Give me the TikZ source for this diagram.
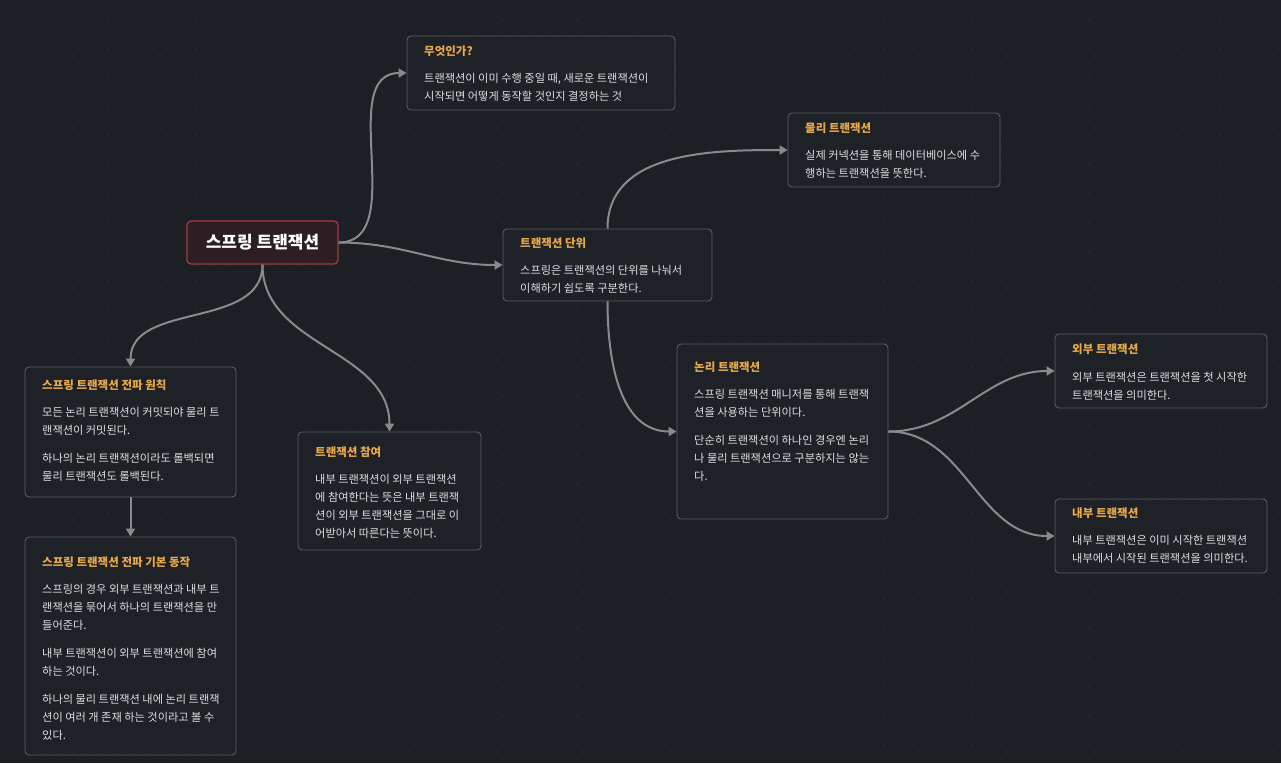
\documentclass[tikz,border=0pt]{standalone}
\usepackage{fontspec}
\setmainfont{Noto Sans CJK KR}
\usepackage{xcolor}
\usepackage{tikz}
\usetikzlibrary{positioning}
\usetikzlibrary{arrows.meta}
\definecolor{bgcol}{HTML}{1C1F24}
\definecolor{dotcol}{HTML}{30343A}
\definecolor{cardfill}{HTML}{1E2126}
\definecolor{cardline}{HTML}{5A5D62}
\definecolor{rootfill}{HTML}{2C1E22}
\definecolor{rootline}{HTML}{A53A3E}
\definecolor{edgecol}{HTML}{8A8A8A}
\definecolor{titlecol}{HTML}{E8A94B}
\definecolor{textcol}{HTML}{DEDEDE}
\tikzset{
  card/.style={draw=cardline, fill=cardfill, rounded corners=4pt, line width=0.9pt, inner sep=0pt},
  cardtitle/.style={text=titlecol, inner sep=0pt, font=\fontsize{11.5}{14}\selectfont\bfseries},
  cardtext/.style={text=textcol, inner sep=0pt, align=left, font=\fontsize{11.2}{18}\selectfont},
  rootbox/.style={draw=rootline, fill=rootfill, rounded corners=4pt, line width=1.3pt,
    text=white, font=\fontsize{17}{18}\selectfont\bfseries},
  link/.style={draw=edgecol, line width=2pt, -{Triangle[length=8pt,width=9pt]}}
}
% card: name, left, top, width, height, title y, title, body
\newcommand{\card}[8]{%
  \node[card, minimum width=#4, minimum height=#5] (#1) at (#2+#4/2, #3+#5/2) {};
  \node[cardtitle, anchor=west] (#1-t) at (#2+17, #6) {#7};
  \node[cardtext, anchor=north west] (#1-b) at (#2+17, #6+22.5) {#8};
}

\begin{document}
\begin{tikzpicture}[x=1pt, y=-1pt]
  \useasboundingbox (0,0) rectangle (1281,763);
  \fill[bgcol] (0,0) rectangle (1281,763);
  % dotted grid
  \foreach \i in {0,...,87}
    \foreach \j in {0,...,52}
      \fill[dotcol] (6+\i*14.63, 5+\j*14.5) circle (0.7pt);

  \node[rootbox, minimum width=151, minimum height=43] (root) at (262.5,242.5) {스프링 트랜잭션};

  \card{what}{407}{36}{268}{74}{51}{무엇인가?}
    {트랜잭션이 이미 수행 중일 때, 새로운 트랜잭션이\\시작되면 어떻게 동작할 것인지 결정하는 것}
  \card{phys}{788}{113}{212}{74}{128}{물리 트랜잭션}
    {실제 커넥션을 통해 데이터베이스에 수\\행하는 트랜잭션을 뜻한다.}
  \card{unit}{503}{229}{209}{72}{243}{트랜잭션 단위}
    {스프링은 트랜잭션의 단위를 나눠서\\이해하기 쉽도록 구분한다.}
  \card{rule}{25}{367}{211}{130}{385}{스프링 트랜잭션 전파 원칙}
    {모든 논리 트랜잭션이 커밋되야 물리 트\\랜잭션이 커밋된다.\\[10pt]하나의 논리 트랜잭션이라도 롤백되면\\물리 트랜잭션도 롤백된다.}
  \card{join}{298}{432}{183}{118}{452}{트랜잭션 참여}
    {내부 트랜잭션이 외부 트랜잭션\\에 참여한다는 뜻은 내부 트랜잭\\션이 외부 트랜잭션을 그대로 이\\어받아서 따른다는 뜻이다.}
  \card{logic}{677}{344}{211}{175}{367}{논리 트랜잭션}
    {스프링 트랜잭션 매니저를 통해 트랜잭\\션을 사용하는 단위이다.\\[10pt]단순히 트랜잭션이 하나인 경우엔 논리\\나 물리 트랜잭션으로 구분하지는 않는\\다.}
  \card{outer}{1055}{334}{212}{74}{349}{외부 트랜잭션}
    {외부 트랜잭션은 트랜잭션을 첫 시작한\\트랜잭션을 의미한다.}
  \card{inner}{1055}{499}{212}{74}{513}{내부 트랜잭션}
    {내부 트랜잭션은 이미 시작한 트랜잭션\\내부에서 시작된 트랜잭션을 의미한다.}
  \card{basic}{25}{537}{211}{218}{562}{스프링 트랜잭션 전파 기본 동작}
    {스프링의 경우 외부 트랜잭션과 내부 트\\랜잭션을 묶어서 하나의 트랜잭션을 만\\들어준다.\\[10pt]내부 트랜잭션이 외부 트랜잭션에 참여\\하는 것이다.\\[10pt]하나의 물리 트랜잭션 내에 논리 트랜잭\\션이 여러 개 존재 하는 것이라고 볼 수\\있다.}

  % connectors
  \draw[link] (root.east) to[out=0, in=180] (what.west);
  \draw[link] (root.east) to[out=0, in=180] (unit.west);
  \draw[link] (root.south) to[out=-90, in=90] (rule.north);
  \draw[link] (root.south) to[out=-90, in=90] (join.north);
  \draw[link] (unit.north) to[out=90, in=180] (phys.west);
  \draw[link] (unit.south) to[out=-90, in=180] (logic.west);
  \draw[link] (logic.east) to[out=0, in=180] (outer.west);
  \draw[link] (logic.east) to[out=0, in=180] (inner.west);
  \draw[link] (rule.south) -- (basic.north);
\end{tikzpicture}
\end{document}
